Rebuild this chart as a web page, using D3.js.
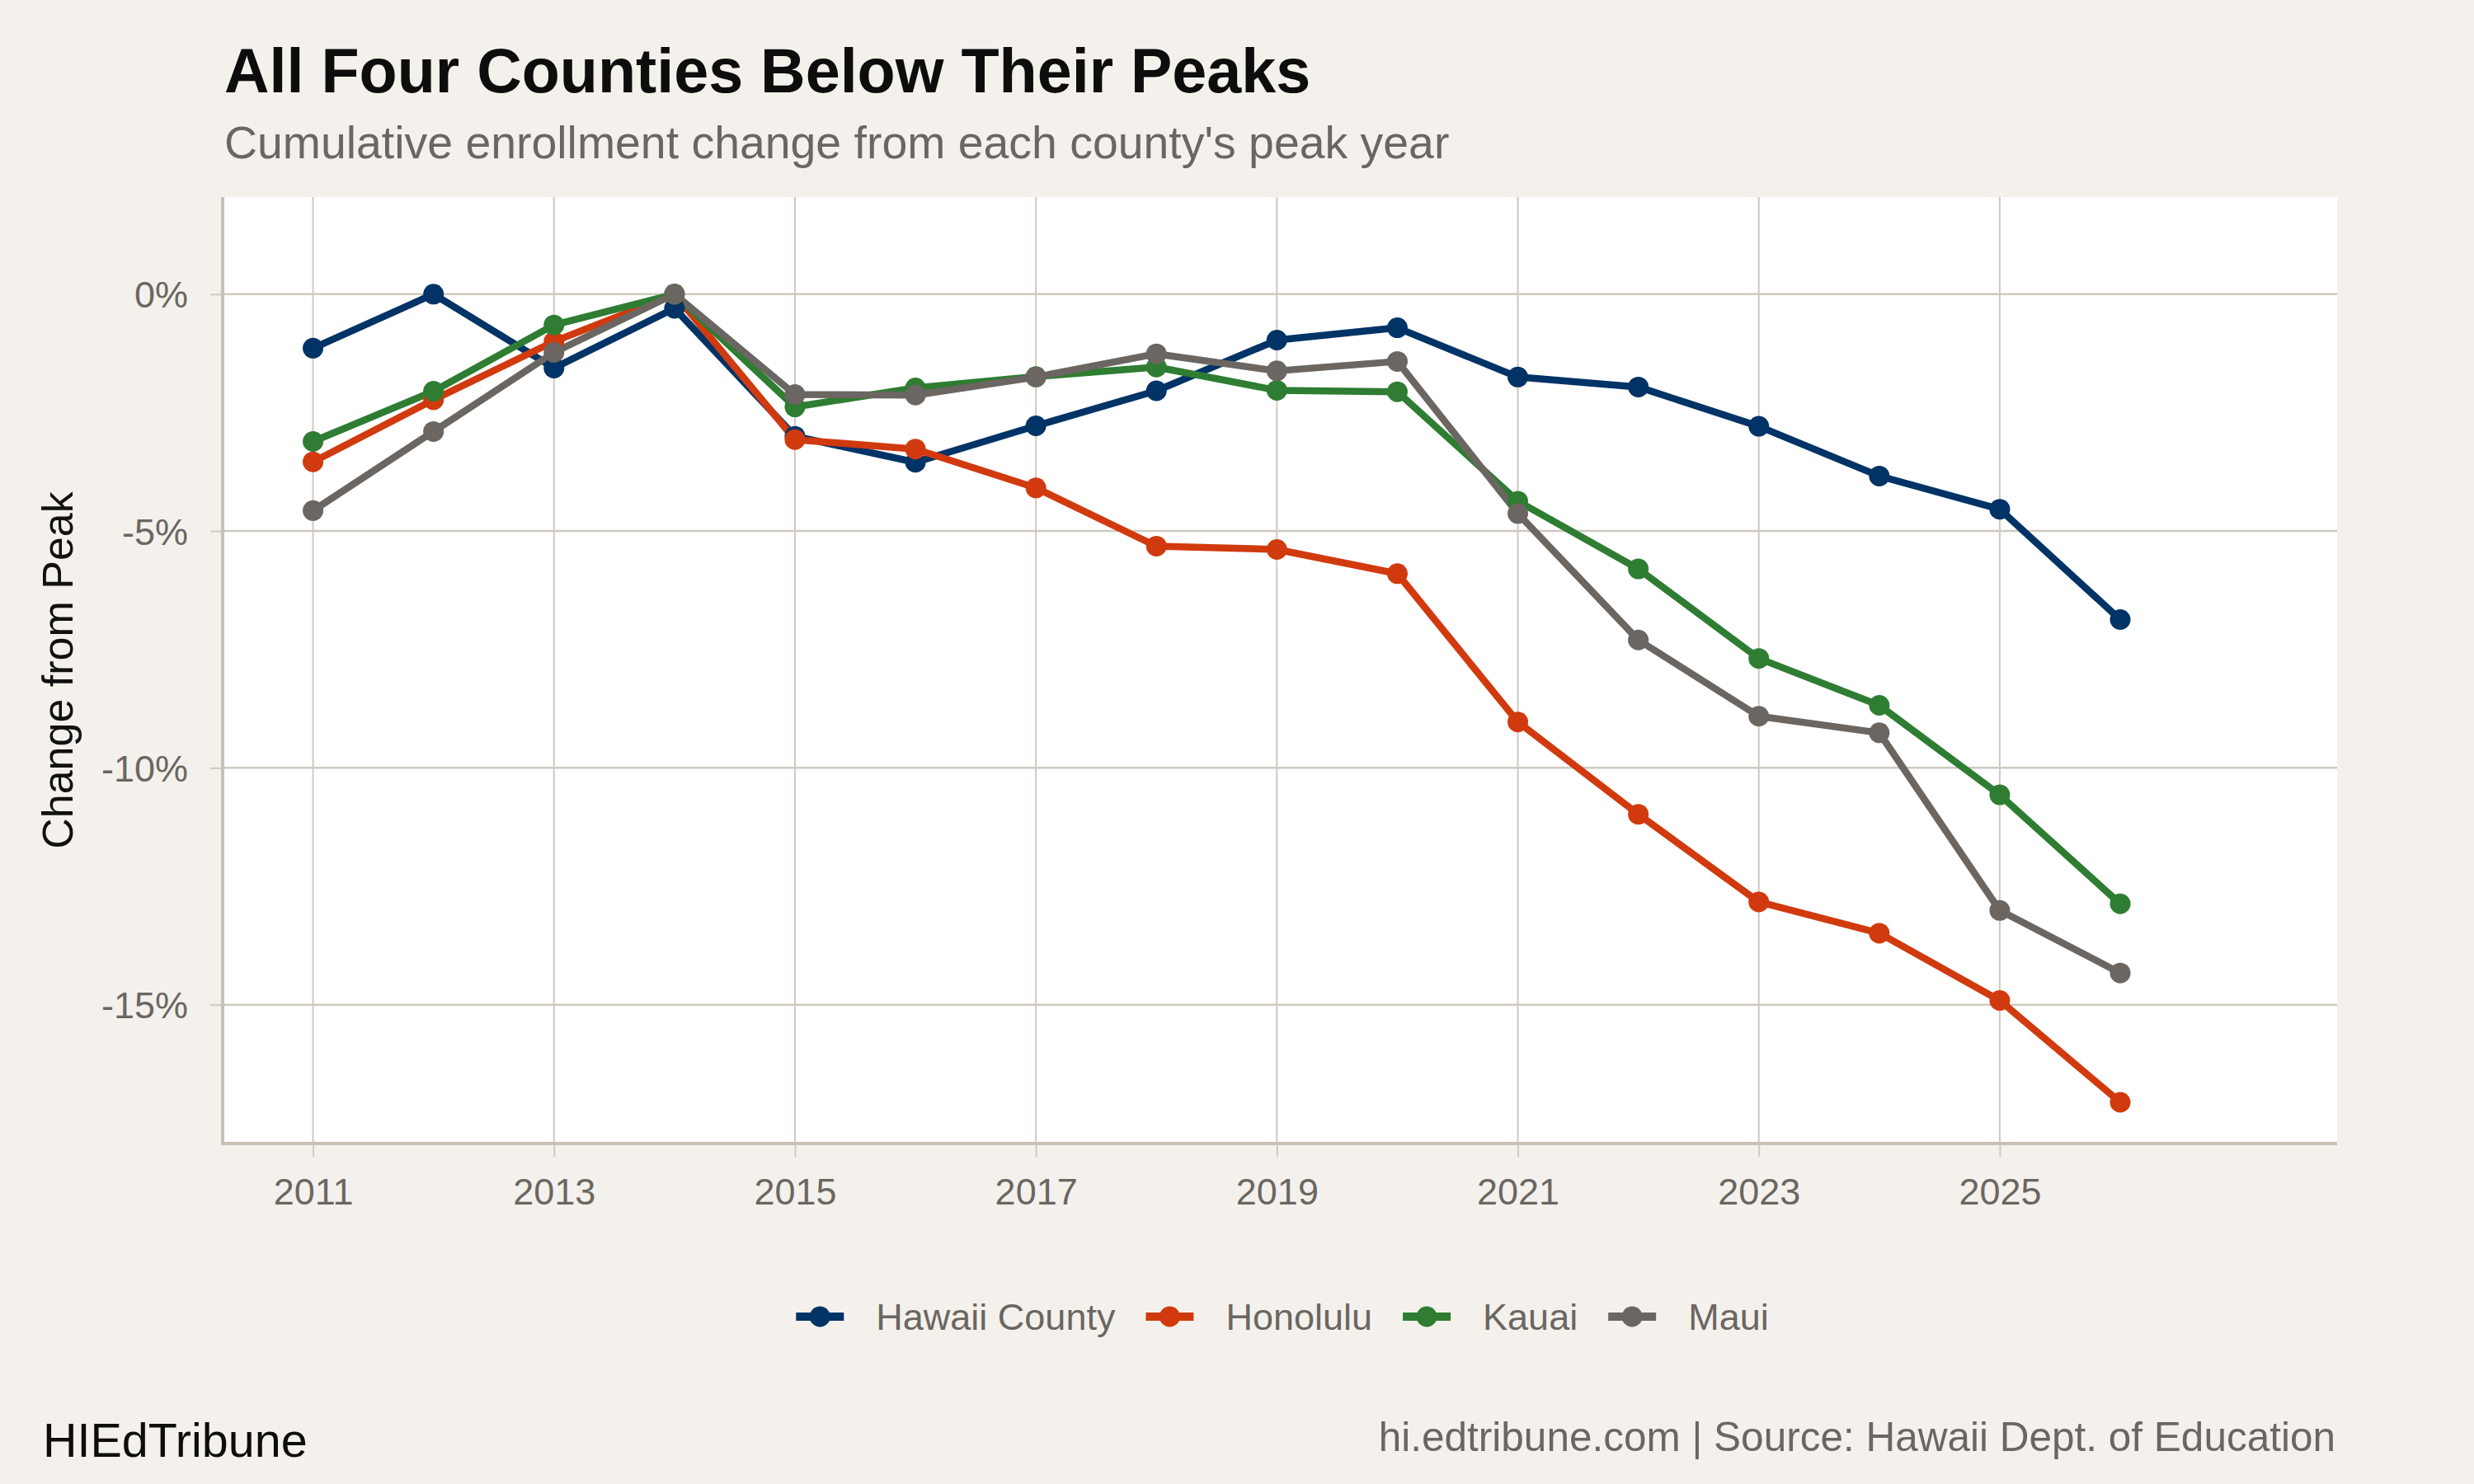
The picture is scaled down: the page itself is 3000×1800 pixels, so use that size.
<!DOCTYPE html>
<html>
<head>
<meta charset="utf-8">
<script src="https://cdn.jsdelivr.net/npm/d3@7"></script>
<style>
  body { margin: 0; background: #f4f1ec; }
  text { font-family: 'Liberation Sans', Arial, sans-serif; }
</style>
</head>
<body>
<script>
// data
var years = [2011, 2012, 2013, 2014, 2015, 2016, 2017, 2018, 2019, 2020, 2021, 2022, 2023, 2024, 2025, 2026];
var counties = ['Hawaii County', 'Honolulu', 'Kauai', 'Maui'];
var hawaiiCounty = [-1.14, 0, -1.56, -0.30, -3.00, -3.55, -2.78, -2.04, -0.97, -0.71, -1.75, -1.96, -2.79, -3.84, -4.54, -6.87];
var honolulu = [-3.54, -2.23, -1.00, 0, -3.07, -3.27, -4.09, -5.32, -5.39, -5.90, -9.03, -10.98, -12.83, -13.49, -14.91, -17.06];
var kauai = [-3.11, -2.05, -0.65, 0, -2.38, -1.98, -1.74, -1.54, -2.03, -2.06, -4.37, -5.80, -7.69, -8.68, -10.57, -12.87];
var maui = [-4.57, -2.90, -1.23, 0, -2.12, -2.13, -1.75, -1.26, -1.62, -1.42, -4.63, -7.30, -8.91, -9.26, -13.01, -14.33];
var xTicks = [2011, 2013, 2015, 2017, 2019, 2021, 2023, 2025];
var yTicks = [0, -5, -10, -15];

var seriesValues = [hawaiiCounty, honolulu, kauai, maui];
var colors = ['#003366', '#d13a0e', '#2e7d32', '#6b6661'];

var W = 3000, H = 1800;
var panel = { left: 270, right: 2834, top: 239, bottom: 1387 };
var gridColor = '#cfc9c0';
var axisColor = '#c8c0b5';
var textGray = '#6b6661';

var svg = d3.select('body').append('svg')
  .attr('width', W)
  .attr('height', H);

svg.append('rect')
  .attr('width', W)
  .attr('height', H)
  .style('fill', '#f4f1ec');

var x = d3.scaleLinear()
  .domain([2010.25, 2027.8])
  .range([panel.left, panel.right]);

var y = d3.scaleLinear()
  .domain([-17.93, 2.05])
  .range([panel.bottom, panel.top]);

svg.append('rect')
  .attr('x', panel.left)
  .attr('y', panel.top)
  .attr('width', panel.right - panel.left)
  .attr('height', panel.bottom - panel.top)
  .style('fill', '#ffffff');

// gridlines
svg.append('g').selectAll('line')
  .data(xTicks)
  .enter().append('line')
  .attr('x1', function(d) { return x(d); })
  .attr('x2', function(d) { return x(d); })
  .attr('y1', panel.top)
  .attr('y2', panel.bottom)
  .style('stroke', gridColor)
  .style('stroke-width', 2);

svg.append('g').selectAll('line')
  .data(yTicks)
  .enter().append('line')
  .attr('x1', panel.left)
  .attr('x2', panel.right)
  .attr('y1', function(d) { return y(d); })
  .attr('y2', function(d) { return y(d); })
  .style('stroke', gridColor)
  .style('stroke-width', 2.5);

// axes
var xAxis = d3.axisBottom(x)
  .tickValues(xTicks)
  .tickFormat(d3.format('d'))
  .tickSize(16)
  .tickPadding(26);

var yAxis = d3.axisLeft(y)
  .tickValues(yTicks)
  .tickFormat(function(d) { return d + '%'; })
  .tickSize(15)
  .tickPadding(27);

var gx = svg.append('g')
  .attr('transform', 'translate(0,' + panel.bottom + ')')
  .call(xAxis);

var gy = svg.append('g')
  .attr('transform', 'translate(' + panel.left + ',0)')
  .call(yAxis);

[gx, gy].forEach(function(g) {
  g.select('.domain').remove();
  g.selectAll('.tick line').style('stroke', gridColor).style('stroke-width', 2);
  g.selectAll('.tick text')
    .style('font-family', "'Liberation Sans', Arial, sans-serif")
    .style('font-size', '45px')
    .style('fill', textGray);
});
gy.selectAll('.tick text').attr('dy', '0.36em');

// axis lines
svg.append('line')
  .attr('x1', panel.left).attr('x2', panel.left)
  .attr('y1', panel.top).attr('y2', panel.bottom + 2)
  .style('stroke', axisColor)
  .style('stroke-width', 4);

svg.append('line')
  .attr('x1', panel.left - 2).attr('x2', panel.right)
  .attr('y1', panel.bottom).attr('y2', panel.bottom)
  .style('stroke', axisColor)
  .style('stroke-width', 4);

// lines
var line = d3.line()
  .x(function(d, i) { return x(years[i]); })
  .y(function(d) { return y(d); });

svg.append('g').selectAll('path')
  .data(seriesValues)
  .enter().append('path')
  .attr('d', line)
  .style('fill', 'none')
  .style('stroke', function(d, i) { return colors[i]; })
  .style('stroke-width', 8.5)
  .style('stroke-linejoin', 'round');

// points
seriesValues.forEach(function(vals, s) {
  svg.append('g').selectAll('circle')
    .data(vals)
    .enter().append('circle')
    .attr('cx', function(d, i) { return x(years[i]); })
    .attr('cy', function(d) { return y(d); })
    .attr('r', 12.5)
    .style('fill', colors[s]);
});

// titles
svg.append('text')
  .attr('x', 272)
  .attr('y', 112)
  .style('font-size', '75.5px')
  .style('font-weight', 'bold')
  .style('fill', '#0d0d0d')
  .text('All Four Counties Below Their Peaks');

svg.append('text')
  .attr('x', 272)
  .attr('y', 192)
  .style('font-size', '55.4px')
  .style('fill', textGray)
  .text("Cumulative enrollment change from each county's peak year");

svg.append('text')
  .attr('transform', 'translate(88,' + ((panel.top + panel.bottom) / 2) + ') rotate(-90)')
  .style('text-anchor', 'middle')
  .style('font-size', '52px')
  .style('fill', '#111111')
  .text('Change from Peak');

// legend
var legend = svg.append('g');
var lx = 0;
counties.forEach(function(name, i) {
  var item = legend.append('g').attr('transform', 'translate(' + lx + ',0)');
  item.append('line')
    .attr('x1', 0).attr('x2', 58)
    .attr('y1', 0).attr('y2', 0)
    .style('stroke', colors[i])
    .style('stroke-width', 10);
  item.append('circle')
    .attr('cx', 29).attr('cy', 0).attr('r', 12.5)
    .style('fill', colors[i]);
  var t = item.append('text')
    .attr('x', 97)
    .attr('y', 16)
    .style('font-size', '45px')
    .style('fill', textGray)
    .text(name);
  lx += 97 + t.node().getComputedTextLength() + 37;
});
lx -= 37;
legend.attr('transform', 'translate(' + (1555 - lx / 2) + ',1597)');

// footer
svg.append('text')
  .attr('x', 52)
  .attr('y', 1767)
  .style('font-size', '57.5px')
  .style('fill', '#0d0d0d')
  .text('HIEdTribune');

svg.append('text')
  .attr('x', 2832)
  .attr('y', 1760)
  .style('text-anchor', 'end')
  .style('font-size', '49.5px')
  .style('fill', textGray)
  .text('hi.edtribune.com | Source: Hawaii Dept. of Education');
</script>
</body>
</html>
